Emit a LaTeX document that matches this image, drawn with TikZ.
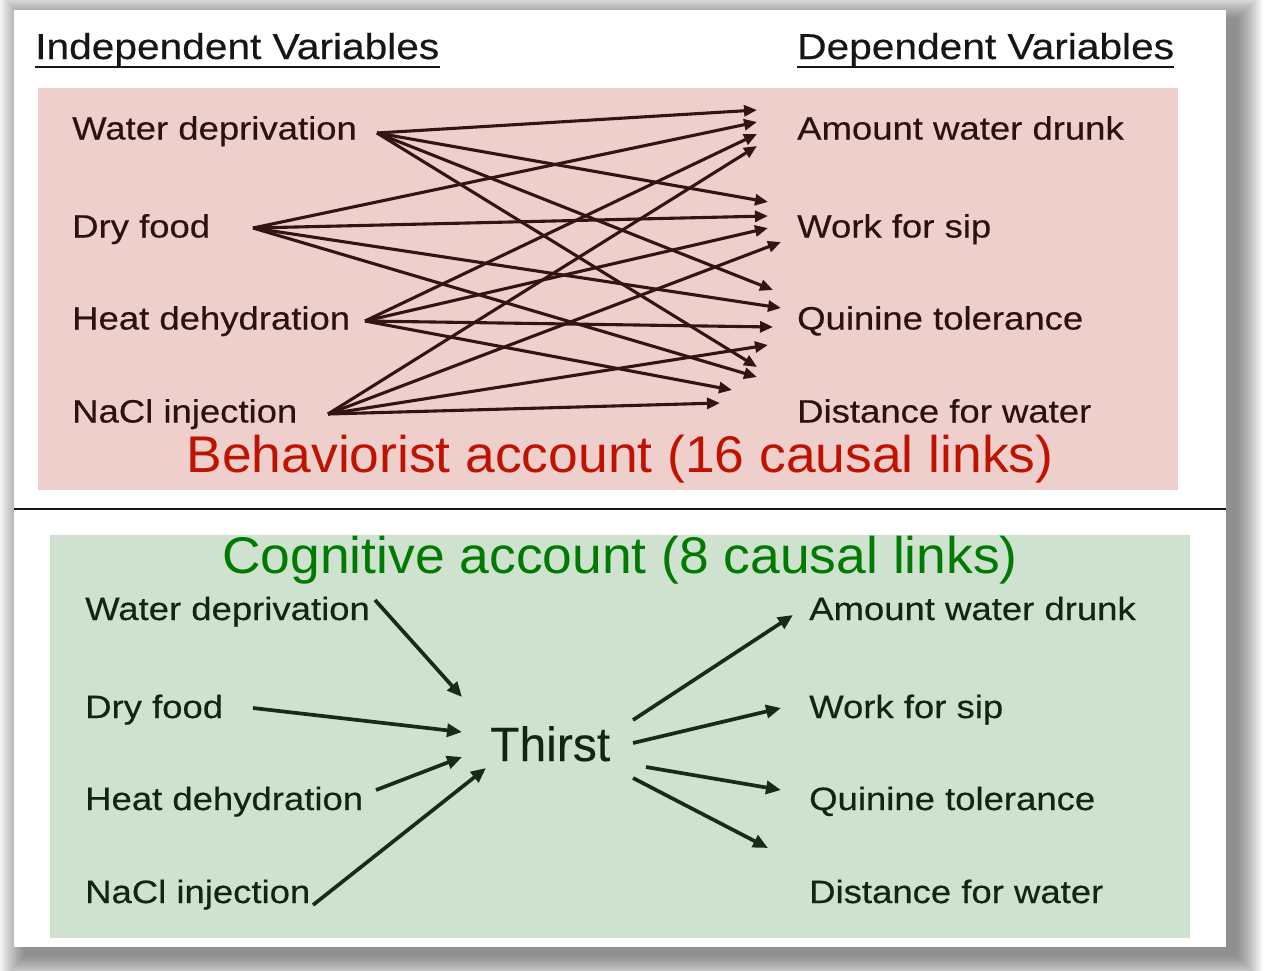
\documentclass[tikz,border=0pt]{standalone}
\usepackage{fontspec}
\setmainfont{Liberation Sans}
\newfontfamily\labfont{Liberation Sans}[FakeStretch=1.13,FakeBold=0.4]
\newfontfamily\titfont{Liberation Sans}[FakeStretch=1.035]
\newfontfamily\thfont{Liberation Sans}[FakeBold=0.3]
\usetikzlibrary{arrows.meta}
\definecolor{pinkbg}{RGB}{239,207,204}
\definecolor{greenbg}{RGB}{206,226,207}
\definecolor{toptext}{RGB}{42,18,16}
\definecolor{toparrow}{RGB}{50,20,18}
\definecolor{bottext}{RGB}{18,36,20}
\definecolor{botarrow}{RGB}{22,44,24}
\definecolor{redtitle}{RGB}{192,18,0}
\definecolor{greentitle}{RGB}{0,122,0}
\definecolor{headtext}{RGB}{22,22,22}
\tikzset{
  lab/.style={inner sep=0pt, anchor=base west, font=\labfont\fontsize{32.3}{36}\selectfont},
  toplab/.style={lab, text=toptext},
  botlab/.style={lab, text=bottext},
  head/.style={inner sep=0pt, anchor=base west, text=headtext, font=\labfont\fontsize{36}{40}\selectfont},
  acctitle/.style={inner sep=0pt, anchor=base, font=\titfont\fontsize{51.6}{56}\selectfont},
  toparr/.style={draw=toparrow, line width=3.1pt, -{Triangle[length=13pt,width=11pt]}},
  botarr/.style={draw=botarrow, line width=3.7pt, -{Triangle[length=15pt,width=13pt]}}
}
\begin{document}
\begin{tikzpicture}[x=1pt,y=-1pt]
\useasboundingbox (0,0) rectangle (1266,970);
% shadow
\foreach \r in {0,2,...,24}{
  \fill[black, opacity=0.045] (24-\r,18-\r) rectangle (1238+\r,957+\r);
}
% panel
\fill[white] (14,10) rectangle (1226,947);
% backgrounds
\fill[pinkbg] (38,88) rectangle (1178,490);
\fill[greenbg] (50,535) rectangle (1190,938);
\draw[line width=2.5pt, color=headtext] (14,509) -- (1226,509);

% headers
\node[head] (ind) at (35,59) {Independent Variables};
\node[head] (dep) at (797,59) {Dependent Variables};
\draw[line width=2.2pt, color=headtext] (ind.south west) -- (ind.south east);
\draw[line width=2.2pt, color=headtext] (dep.south west) -- (dep.south east);

% top labels
\node[toplab] (wd1) at (72,139.5) {Water deprivation};
\node[toplab] (df1) at (72,237.5) {Dry food};
\node[toplab] (hd1) at (72,329.5) {Heat dehydration};
\node[toplab] (na1) at (72,422.5) {NaCl injection};
\node[toplab] (aw1) at (797,139.5) {Amount water drunk};
\node[toplab] (ws1) at (797,237.5) {Work for sip};
\node[toplab] (qt1) at (797,329.5) {Quinine tolerance};
\node[toplab] (dw1) at (797,422.5) {Distance for water};
\node[acctitle, text=redtitle] (beh) at (620,472) {Behaviorist account (16 causal links)};

% top connector points
\coordinate (wdS) at (377,133);
\coordinate (dfS) at (253,228);
\coordinate (hdS) at (365,321);
\coordinate (naS) at (328,414);
\coordinate (awA) at (757,110);
\coordinate (awB) at (757,122);
\coordinate (awC) at (757,134);
\coordinate (awD) at (757,146);
\coordinate (wsA) at (768,202);
\coordinate (wsB) at (768,216);
\coordinate (wsC) at (768,228);
\coordinate (wsD) at (781,242);
\coordinate (qtA) at (773,290);
\coordinate (qtB) at (781,308);
\coordinate (qtC) at (773,327);
\coordinate (qtD) at (768,345);
\coordinate (dwA) at (757,367);
\coordinate (dwB) at (757,377);
\coordinate (dwC) at (732,390);
\coordinate (dwD) at (720,403);

\draw[toparr] (wdS) -- (awA);
\draw[toparr] (wdS) -- (wsA);
\draw[toparr] (wdS) -- (qtA);
\draw[toparr] (wdS) -- (dwA);
\draw[toparr] (dfS) -- (awB);
\draw[toparr] (dfS) -- (wsB);
\draw[toparr] (dfS) -- (qtB);
\draw[toparr] (dfS) -- (dwB);
\draw[toparr] (hdS) -- (awC);
\draw[toparr] (hdS) -- (wsC);
\draw[toparr] (hdS) -- (qtC);
\draw[toparr] (hdS) -- (dwC);
\draw[toparr] (naS) -- (awD);
\draw[toparr] (naS) -- (wsD);
\draw[toparr] (naS) -- (qtD);
\draw[toparr] (naS) -- (dwD);

% bottom
\node[acctitle, text=greentitle] (cog) at (620,573) {Cognitive account (8 causal links)};
\node[botlab] (wd2) at (85,620) {Water deprivation};
\node[botlab] (df2) at (85,718) {Dry food};
\node[botlab] (hd2) at (85,810) {Heat dehydration};
\node[botlab] (na2) at (85,903) {NaCl injection};
\node[botlab] (aw2) at (809,620) {Amount water drunk};
\node[botlab] (ws2) at (809,718) {Work for sip};
\node[botlab] (qt2) at (809,810) {Quinine tolerance};
\node[botlab] (dw2) at (809,903) {Distance for water};
\node[inner sep=0pt, anchor=base west, text=bottext, font=\thfont\fontsize{48}{52}\selectfont] (thirst) at (490,761) {Thirst};

\coordinate (wdS2) at (375,600);
\coordinate (dfS2) at (253,708);
\coordinate (hdS2) at (376,790);
\coordinate (naS2) at (313,905);
\coordinate (tIn1) at (462,697);
\coordinate (tIn2) at (462,732);
\coordinate (tIn3) at (462,757);
\coordinate (tIn4) at (486,768);
\coordinate (tOut1) at (633,720);
\coordinate (tOut2) at (633,743);
\coordinate (tOut3) at (646,767);
\coordinate (tOut4) at (633,778);
\coordinate (awE) at (793,615);
\coordinate (wsE) at (781,708);
\coordinate (qtE) at (781,790);
\coordinate (dwE) at (768,848);

\draw[botarr] (wdS2) -- (tIn1);
\draw[botarr] (dfS2) -- (tIn2);
\draw[botarr] (hdS2) -- (tIn3);
\draw[botarr] (naS2) -- (tIn4);
\draw[botarr] (tOut1) -- (awE);
\draw[botarr] (tOut2) -- (wsE);
\draw[botarr] (tOut3) -- (qtE);
\draw[botarr] (tOut4) -- (dwE);
\end{tikzpicture}
\end{document}
